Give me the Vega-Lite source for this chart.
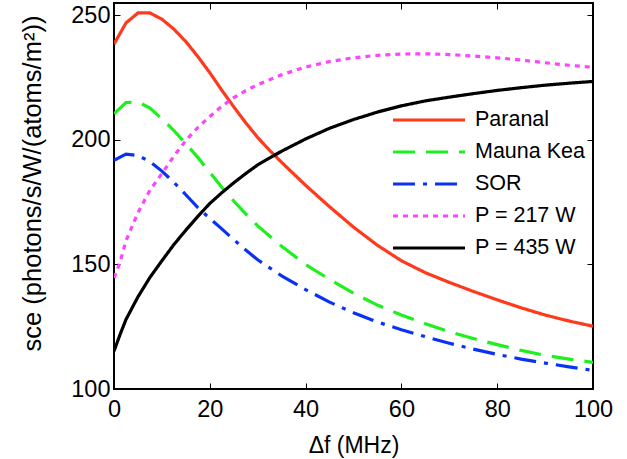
{
  "$schema": "https://vega.github.io/schema/vega-lite/v6.json",
  "width": 479,
  "height": 386,
  "autosize": {"type": "none"},
  "padding": {"left": 114, "top": 3, "right": 34, "bottom": 70},
  "background": "white",
  "config": {
    "view": {"stroke": "black", "strokeWidth": 2},
    "font": "Liberation Sans",
    "axis": {
      "grid": false,
      "domain": false,
      "tickColor": "black",
      "tickWidth": 1,
      "labelColor": "black",
      "labelFont": "Liberation Sans",
      "labelFontSize": 23.5,
      "labelFlush": false,
      "titleFont": "Liberation Sans",
      "titleFontSize": 23,
      "titleFontWeight": "normal",
      "titleColor": "black"
    },
    "legend": {
      "labelFont": "Liberation Sans",
      "labelFontSize": 21.5,
      "labelColor": "black"
    }
  },
  "data": {
    "values": [
      {"series": "Paranal", "f": 0, "s": 238.5},
      {"series": "Paranal", "f": 2.5, "s": 247},
      {"series": "Paranal", "f": 5, "s": 251},
      {"series": "Paranal", "f": 7.5, "s": 251},
      {"series": "Paranal", "f": 10, "s": 248.5},
      {"series": "Paranal", "f": 12.5, "s": 244.5},
      {"series": "Paranal", "f": 15, "s": 239.5},
      {"series": "Paranal", "f": 17.5, "s": 233.5},
      {"series": "Paranal", "f": 20, "s": 227},
      {"series": "Paranal", "f": 22.5, "s": 220},
      {"series": "Paranal", "f": 25, "s": 213.3},
      {"series": "Paranal", "f": 27.5, "s": 206.9},
      {"series": "Paranal", "f": 30, "s": 201},
      {"series": "Paranal", "f": 32.5, "s": 195.8},
      {"series": "Paranal", "f": 35, "s": 191},
      {"series": "Paranal", "f": 40, "s": 181.8},
      {"series": "Paranal", "f": 45, "s": 173.2},
      {"series": "Paranal", "f": 50, "s": 165},
      {"series": "Paranal", "f": 55, "s": 157.7},
      {"series": "Paranal", "f": 60, "s": 151.5},
      {"series": "Paranal", "f": 65, "s": 146.7},
      {"series": "Paranal", "f": 70, "s": 142.8},
      {"series": "Paranal", "f": 75, "s": 139.2},
      {"series": "Paranal", "f": 80, "s": 135.8},
      {"series": "Paranal", "f": 85, "s": 132.6},
      {"series": "Paranal", "f": 90, "s": 129.7},
      {"series": "Paranal", "f": 95, "s": 127.3},
      {"series": "Paranal", "f": 100, "s": 125.2},
      {"series": "Mauna Kea", "f": 0, "s": 210.5},
      {"series": "Mauna Kea", "f": 2.5, "s": 215},
      {"series": "Mauna Kea", "f": 5, "s": 215.3},
      {"series": "Mauna Kea", "f": 7.5, "s": 212.8},
      {"series": "Mauna Kea", "f": 10, "s": 208.5},
      {"series": "Mauna Kea", "f": 12.5, "s": 203.8},
      {"series": "Mauna Kea", "f": 15, "s": 198.5},
      {"series": "Mauna Kea", "f": 17.5, "s": 193},
      {"series": "Mauna Kea", "f": 20, "s": 187},
      {"series": "Mauna Kea", "f": 22.5, "s": 181},
      {"series": "Mauna Kea", "f": 25, "s": 175.5},
      {"series": "Mauna Kea", "f": 27.5, "s": 170.3},
      {"series": "Mauna Kea", "f": 30, "s": 165.5},
      {"series": "Mauna Kea", "f": 35, "s": 157.3},
      {"series": "Mauna Kea", "f": 40, "s": 150},
      {"series": "Mauna Kea", "f": 45, "s": 144},
      {"series": "Mauna Kea", "f": 50, "s": 138.5},
      {"series": "Mauna Kea", "f": 55, "s": 133.7},
      {"series": "Mauna Kea", "f": 60, "s": 129.7},
      {"series": "Mauna Kea", "f": 65, "s": 126.2},
      {"series": "Mauna Kea", "f": 70, "s": 123},
      {"series": "Mauna Kea", "f": 75, "s": 120.3},
      {"series": "Mauna Kea", "f": 80, "s": 117.8},
      {"series": "Mauna Kea", "f": 85, "s": 115.5},
      {"series": "Mauna Kea", "f": 90, "s": 113.5},
      {"series": "Mauna Kea", "f": 95, "s": 112},
      {"series": "Mauna Kea", "f": 100, "s": 110.7},
      {"series": "SOR", "f": 0, "s": 191.8},
      {"series": "SOR", "f": 2.5, "s": 194.3},
      {"series": "SOR", "f": 5, "s": 193.8},
      {"series": "SOR", "f": 7.5, "s": 191.3},
      {"series": "SOR", "f": 10, "s": 187.5},
      {"series": "SOR", "f": 12.5, "s": 183},
      {"series": "SOR", "f": 15, "s": 178},
      {"series": "SOR", "f": 17.5, "s": 172.8},
      {"series": "SOR", "f": 20, "s": 168.5},
      {"series": "SOR", "f": 22.5, "s": 164.3},
      {"series": "SOR", "f": 25, "s": 160},
      {"series": "SOR", "f": 27.5, "s": 155.8},
      {"series": "SOR", "f": 30, "s": 151.9},
      {"series": "SOR", "f": 35, "s": 145.4},
      {"series": "SOR", "f": 40, "s": 139.9},
      {"series": "SOR", "f": 45, "s": 134.9},
      {"series": "SOR", "f": 50, "s": 130.6},
      {"series": "SOR", "f": 55, "s": 126.9},
      {"series": "SOR", "f": 60, "s": 123.8},
      {"series": "SOR", "f": 65, "s": 121},
      {"series": "SOR", "f": 70, "s": 118.4},
      {"series": "SOR", "f": 75, "s": 116},
      {"series": "SOR", "f": 80, "s": 113.9},
      {"series": "SOR", "f": 85, "s": 112},
      {"series": "SOR", "f": 90, "s": 110.4},
      {"series": "SOR", "f": 95, "s": 108.9},
      {"series": "SOR", "f": 100, "s": 107.5},
      {"series": "P = 217 W", "f": 0, "s": 144.6},
      {"series": "P = 217 W", "f": 1.25, "s": 150.8},
      {"series": "P = 217 W", "f": 2.5, "s": 159.5},
      {"series": "P = 217 W", "f": 5, "s": 170.8},
      {"series": "P = 217 W", "f": 7.5, "s": 179.8},
      {"series": "P = 217 W", "f": 10, "s": 186.5},
      {"series": "P = 217 W", "f": 12.5, "s": 193.5},
      {"series": "P = 217 W", "f": 15, "s": 199.8},
      {"series": "P = 217 W", "f": 17.5, "s": 205},
      {"series": "P = 217 W", "f": 20, "s": 209.4},
      {"series": "P = 217 W", "f": 22.5, "s": 213.5},
      {"series": "P = 217 W", "f": 25, "s": 217},
      {"series": "P = 217 W", "f": 27.5, "s": 219.8},
      {"series": "P = 217 W", "f": 30, "s": 222.2},
      {"series": "P = 217 W", "f": 35, "s": 226.2},
      {"series": "P = 217 W", "f": 40, "s": 229.3},
      {"series": "P = 217 W", "f": 45, "s": 231.5},
      {"series": "P = 217 W", "f": 50, "s": 233},
      {"series": "P = 217 W", "f": 55, "s": 234},
      {"series": "P = 217 W", "f": 60, "s": 234.5},
      {"series": "P = 217 W", "f": 65, "s": 234.6},
      {"series": "P = 217 W", "f": 70, "s": 234.3},
      {"series": "P = 217 W", "f": 75, "s": 233.7},
      {"series": "P = 217 W", "f": 80, "s": 233},
      {"series": "P = 217 W", "f": 85, "s": 232.1},
      {"series": "P = 217 W", "f": 90, "s": 231},
      {"series": "P = 217 W", "f": 95, "s": 230},
      {"series": "P = 217 W", "f": 100, "s": 229.2},
      {"series": "P = 435 W", "f": 0, "s": 115.2},
      {"series": "P = 435 W", "f": 1.25, "s": 121.8},
      {"series": "P = 435 W", "f": 2.5, "s": 127.9},
      {"series": "P = 435 W", "f": 5, "s": 137},
      {"series": "P = 435 W", "f": 7.5, "s": 144.8},
      {"series": "P = 435 W", "f": 10, "s": 151.5},
      {"series": "P = 435 W", "f": 12.5, "s": 158},
      {"series": "P = 435 W", "f": 15, "s": 163.8},
      {"series": "P = 435 W", "f": 17.5, "s": 169.3},
      {"series": "P = 435 W", "f": 20, "s": 174.5},
      {"series": "P = 435 W", "f": 22.5, "s": 178.8},
      {"series": "P = 435 W", "f": 25, "s": 182.8},
      {"series": "P = 435 W", "f": 27.5, "s": 186.5},
      {"series": "P = 435 W", "f": 30, "s": 190},
      {"series": "P = 435 W", "f": 35, "s": 195.5},
      {"series": "P = 435 W", "f": 40, "s": 200.4},
      {"series": "P = 435 W", "f": 45, "s": 204.7},
      {"series": "P = 435 W", "f": 50, "s": 208.2},
      {"series": "P = 435 W", "f": 55, "s": 211.2},
      {"series": "P = 435 W", "f": 60, "s": 213.7},
      {"series": "P = 435 W", "f": 65, "s": 215.7},
      {"series": "P = 435 W", "f": 70, "s": 217.2},
      {"series": "P = 435 W", "f": 75, "s": 218.6},
      {"series": "P = 435 W", "f": 80, "s": 219.9},
      {"series": "P = 435 W", "f": 85, "s": 221},
      {"series": "P = 435 W", "f": 90, "s": 222},
      {"series": "P = 435 W", "f": 95, "s": 222.8},
      {"series": "P = 435 W", "f": 100, "s": 223.5}
    ]
  },
  "layer": [
    {
      "mark": {"type": "line", "strokeWidth": 3.2, "strokeCap": "butt", "clip": true},
      "encoding": {
        "x": {
          "field": "f", "type": "quantitative",
          "scale": {"domain": [0, 100], "nice": false},
          "axis": {"orient": "bottom", "values": [0, 20, 40, 60, 80, 100], "tickSize": -6, "labelPadding": 14, "title": "Δf (MHz)", "titlePadding": 14}
        },
        "y": {
          "field": "s", "type": "quantitative",
          "scale": {"domain": [100, 255], "nice": false, "zero": false},
          "axis": {"orient": "left", "values": [100, 150, 200, 250], "tickSize": -6, "labelPadding": 10, "title": "sce  (photons/s/W/(atoms/m²))", "titleFontSize": 25.5, "titlePadding": 25, "titleY": 180}
        },
        "color": {
          "field": "series", "type": "nominal",
          "scale": {
            "domain": ["Paranal", "Mauna Kea", "SOR", "P = 217 W", "P = 435 W"],
            "range": ["#ff3a1c", "#1ef01e", "#0a32f5", "#ff44ff", "#000000"]
          },
          "legend": {
            "title": null,
            "orient": "none",
            "legendX": 277,
            "legendY": 105,
            "symbolType": "stroke",
            "symbolSize": 5184,
            "symbolStrokeWidth": 3.2,
            "labelOffset": 8,
            "clipHeight": 24,
            "rowPadding": 8
          }
        },
        "strokeDash": {
          "field": "series", "type": "nominal",
          "scale": {
            "domain": ["Paranal", "Mauna Kea", "SOR", "P = 217 W", "P = 435 W"],
            "range": [[1, 0], [22, 11], [22, 8, 4, 8], [5, 5], [1, 0]]
          },
          "legend": {
            "title": null,
            "orient": "none",
            "legendX": 277,
            "legendY": 105,
            "symbolType": "stroke",
            "symbolSize": 5184,
            "symbolStrokeWidth": 3.2,
            "labelOffset": 8,
            "clipHeight": 24,
            "rowPadding": 8
          }
        }
      }
    },
    {
      "mark": {"type": "line", "opacity": 0},
      "encoding": {
        "x": {
          "field": "f", "type": "quantitative",
          "axis": {"orient": "top", "values": [0, 20, 40, 60, 80, 100], "tickSize": -6, "labels": false, "title": null}
        },
        "y": {
          "field": "s", "type": "quantitative",
          "axis": {"orient": "right", "values": [100, 150, 200, 250], "tickSize": -6, "labels": false, "title": null}
        },
        "detail": {"field": "series"}
      }
    }
  ],
  "resolve": {"axis": {"x": "independent", "y": "independent"}}
}
